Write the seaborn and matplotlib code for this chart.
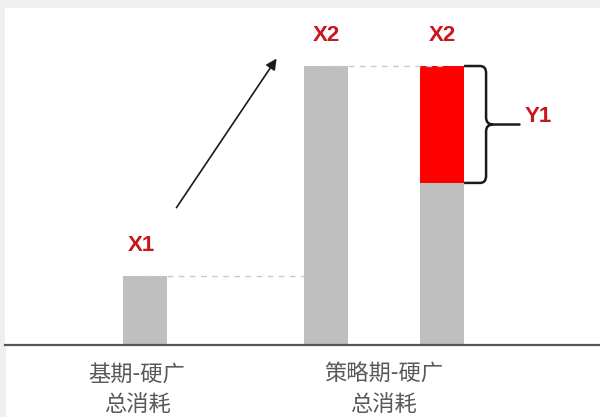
import numpy as np
import matplotlib.pyplot as plt
from matplotlib.patches import Rectangle, PathPatch
from matplotlib.path import Path
import seaborn as sns

sns.set_style("white")
plt.rcParams['font.family'] = ['Noto Sans CJK SC', 'DejaVu Sans']

# data
bar_pos = [0.0, 1.0, 1.643]          # base period, strategy period (total), strategy period (split)
bar_base = [24.7, 100.0, 58.1]       # gray part
red_extra = 100.0 - 58.1             # Y1 part on the last bar
bar_names = ["X1", "X2", "X2"]
tick_pos = [-0.047, 1.32]
tick_labels = ["基期-硬广\n总消耗", "策略期-硬广\n总消耗"]

bar_w = 0.244
gray = "#bfbfbf"
red = "#ff0000"
label_red = "#c9151e"

fig = plt.figure(figsize=(6, 4.17), dpi=100, facecolor="white")
# screenshot frame strips (top / left)
fig.add_artist(Rectangle((0, 1 - 8 / 417), 1, 8 / 417, transform=fig.transFigure,
                         color="#efefef", zorder=0))
fig.add_artist(Rectangle((0, 0), 5 / 600, 1, transform=fig.transFigure,
                         color="#efefef", zorder=0))

ax = fig.add_axes([5 / 600, 72 / 417, 595 / 600, 337 / 417])
ax.set_facecolor("white")

sns.barplot(x=bar_pos, y=bar_base, native_scale=True, color=gray, saturation=1,
            width=bar_w / np.min(np.diff(bar_pos)), linewidth=0, ax=ax, zorder=2)
ax.bar(bar_pos[2], red_extra, bottom=bar_base[2], width=bar_w, color=red,
       linewidth=0, zorder=2)

# dashed guide lines
ax.hlines(bar_base[0], bar_pos[0], bar_pos[1] - bar_w / 2, colors="#c8c8c8",
          linestyles=(0, (4, 4)), lw=1, zorder=3)
ax.hlines(bar_base[1], bar_pos[1], bar_pos[2], colors="#c8c8c8",
          linestyles=(0, (4, 4)), lw=1, zorder=3)

# labels above bars
tops = [bar_base[0], bar_base[1], bar_base[2] + red_extra]
for x, t, name in zip(bar_pos, tops, bar_names):
    ax.text(x - 0.02 if name == "X1" else x, t + 11, name, ha="center", va="center",
            color=label_red, fontsize=16, fontweight="bold", family="Liberation Sans")

# growth arrow
ax.annotate("", xy=(0.735, 103.5), xytext=(0.163, 48.4),
            arrowprops=dict(arrowstyle="-|>", color="#1a1a1a", lw=1.2, mutation_scale=16))

# brace for Y1
px_x = 1 / 180.5
px_y = 1 / 2.79
xr = bar_pos[2] + bar_w / 2
y_top = bar_base[2] + red_extra
y_bot = bar_base[2]
y_mid = (y_top + y_bot) / 2
xv = xr + 22 * px_x
verts = [
    (xr, y_top), (xv - 6 * px_x, y_top), (xv, y_top), (xv, y_top - 7 * px_y),
    (xv, y_mid + 7 * px_y), (xv, y_mid), (xv + 7 * px_x, y_mid),
    (xv, y_mid), (xv, y_mid - 7 * px_y),
    (xv, y_bot + 7 * px_y), (xv, y_bot), (xv - 6 * px_x, y_bot), (xr, y_bot),
]
codes = [Path.MOVETO, Path.LINETO, Path.CURVE3, Path.CURVE3,
         Path.LINETO, Path.CURVE3, Path.CURVE3,
         Path.CURVE3, Path.CURVE3,
         Path.LINETO, Path.CURVE3, Path.CURVE3, Path.LINETO]
ax.add_patch(PathPatch(Path(verts, codes), fill=False, lw=1.8, color="#1a1a1a", zorder=3))
ax.plot([xv + 7 * px_x, xv + 33 * px_x], [y_mid, y_mid], color="#1a1a1a", lw=1.8)
ax.text(xv + 52 * px_x, y_mid + 3, "Y1", ha="center", va="center",
        color=label_red, fontsize=16, fontweight="bold", family="Liberation Sans")

ax.set_xlim(-0.778, 2.518)
ax.set_ylim(0, 120.8)
ax.set_xticks(tick_pos)
ax.set_xticklabels(tick_labels, fontsize=16, color="#595959", linespacing=1.4)
ax.tick_params(axis="x", length=0, pad=13)
ax.set_yticks([])
ax.set_xlabel("")
ax.set_ylabel("")
for s in ["top", "right", "left"]:
    ax.spines[s].set_visible(False)
ax.spines["bottom"].set_color("#555555")
ax.spines["bottom"].set_linewidth(1.6)

fig.savefig("out.png", dpi=100, facecolor=fig.get_facecolor())
